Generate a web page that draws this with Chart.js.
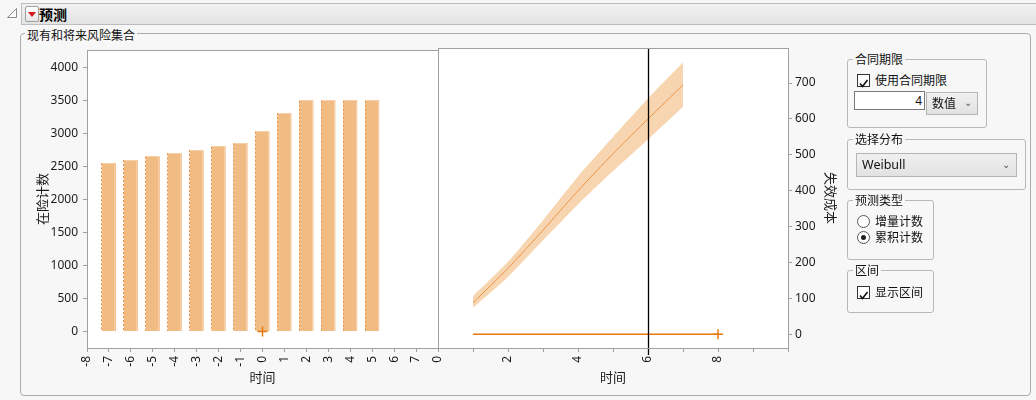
<!DOCTYPE html>
<html>
<head>
<meta charset="utf-8">
<script src="https://cdn.jsdelivr.net/npm/chart.js"></script>
<style>
body { margin:0; width:1036px; height:400px; background:#f7f7f7; position:relative; overflow:hidden;
  font-family:"Noto Sans CJK SC","Noto Sans",sans-serif; font-size:12px; color:#111; }
.abs { position:absolute; }
#titlebar { left:21px; top:3px; width:1020px; height:20px; border:1px solid #bdbdbd;
  background:linear-gradient(#f1f1f1,#e3e3e3); }
#titlebar b { position:absolute; left:17px; top:0px; font-size:14px; line-height:20px; color:#000; }
#redbtn { left:3px; top:2px; width:12px; height:14px; border:1px solid #a0a0a0; border-radius:2px;
  background:linear-gradient(#ffffff,#e6e6e6); }
#group { left:20px; top:33px; width:1009px; height:361px; border:1px solid #acacac; border-radius:4px; background:#f7f7f7; }
.lg { position:absolute; background:#f7f7f7; padding:0 2px; line-height:16px; white-space:nowrap; }
.box { position:absolute; border:1px solid #b8b8b8; border-radius:3px; }
.box .lg { left:5px; top:-9px; }
.chk { position:absolute; width:11px; height:11px; border:1px solid #333; background:#fff; }
.radio { position:absolute; width:11px; height:11px; border:1px solid #555; border-radius:50%; background:#fff; }
.radio.on::after { content:""; position:absolute; left:3px; top:3px; width:5px; height:5px; border-radius:50%; background:#222; }
.txt { position:absolute; white-space:nowrap; line-height:16px; }
.dd { position:absolute; border:1px solid #b5b5b5; background:linear-gradient(#f0f0f0,#e2e2e2); }
canvas { position:absolute; }
</style>
</head>
<body>
<svg class="abs" style="left:6px;top:7px" width="12" height="12"><polygon points="10.5,1.5 10.5,10.5 1.5,10.5" fill="#fff" stroke="#8a8a8a"/></svg>
<div id="titlebar" class="abs">
  <div id="redbtn" class="abs"><svg width="12" height="14"><polygon points="2,5 10,5 6,10" fill="#d8161b"/></svg></div>
  <b>预测</b>
</div>
<div id="group" class="abs"></div>
<span class="lg" style="left:25px;top:27px">现有和将来风险集合</span>

<canvas id="riskChart" width="440" height="350" style="left:20px;top:38px"></canvas>
<canvas id="costChart" width="423" height="350" style="left:420px;top:38px"></canvas>

<div class="box" style="left:847px;top:59px;width:138px;height:67px">
  <span class="lg">合同期限</span>
</div>
<div class="chk" style="left:857px;top:74px"><svg width="11" height="11"><polyline points="2,5.5 4.5,8.5 9.5,2" fill="none" stroke="#111" stroke-width="1.6"/></svg></div>
<span class="txt" style="left:875px;top:72px">使用合同期限</span>
<div class="abs" style="left:854px;top:91px;width:67px;height:17px;border:1px solid #7a7a7a;background:#fff;text-align:right;line-height:17px;padding-right:2px;font-family:'Noto Sans',sans-serif">4</div>
<div class="dd" style="left:926px;top:92px;width:50px;height:21px"><span class="txt" style="left:5px;top:2px">数值</span><span class="txt" style="left:37px;top:1px;font-size:10px;color:#555">&#8964;</span></div>

<div class="box" style="left:847px;top:139px;width:177px;height:49px">
  <span class="lg">选择分布</span>
</div>
<div class="dd" style="left:856px;top:153px;width:159px;height:22px"><span class="txt" style="left:5px;top:3px;font-family:'Noto Sans',sans-serif;font-size:12.5px">Weibull</span><span class="txt" style="left:145px;top:2px;font-size:10px;color:#555">&#8964;</span></div>

<div class="box" style="left:847px;top:200px;width:85px;height:58px">
  <span class="lg">预测类型</span>
</div>
<div class="radio" style="left:857px;top:215px"></div>
<span class="txt" style="left:875px;top:213px">增量计数</span>
<div class="radio on" style="left:857px;top:231px"></div>
<span class="txt" style="left:875px;top:229px">累积计数</span>

<div class="box" style="left:847px;top:270px;width:85px;height:41px">
  <span class="lg">区间</span>
</div>
<div class="chk" style="left:857px;top:286px"><svg width="11" height="11"><polyline points="2,5.5 4.5,8.5 9.5,2" fill="none" stroke="#111" stroke-width="1.6"/></svg></div>
<span class="txt" style="left:875px;top:284px">显示区间</span>

<script>
// left panel: at-risk counts by time
const riskTimes = [-7, -6, -5, -4, -3, -2, -1, 0, 1, 2, 3, 4, 5];
const riskCounts = [2550, 2600, 2650, 2700, 2750, 2800, 2850, 3030, 3310, 3500, 3500, 3500, 3500];
const riskTimeTicks = [-8, -7, -6, -5, -4, -3, -2, -1, 0, 1, 2, 3, 4, 5, 6, 7];
const riskCountTicks = [0, 500, 1000, 1500, 2000, 2500, 3000, 3500, 4000];
const nowTime = 0;

// right panel: cumulative failure cost forecast
const forecastTimes = [1, 2, 3, 4, 5, 6, 7];
const forecastCost = [88, 184, 290, 400, 503, 600, 695];
const forecastUpper = [106, 202, 318, 440, 550, 657, 757];
const forecastLower = [74, 160, 262, 362, 455, 543, 633];
const contractTimes = [1, 8];
const cutoffTime = 6;
const costTimeTicks = [0, 1, 2, 3, 4, 5, 6, 7, 8, 9, 10];
const costTimeLabels = ['0', '', '2', '', '4', '', '6', '', '8', '', ''];
const costTicks = [0, 100, 200, 300, 400, 500, 600, 700];

const tickFont = { family: 'Noto Sans', size: 12 };
const titleFont = { family: 'Noto Sans CJK SC', size: 13 };
const gray = '#a0a0a0';
const orange = '#e8770c';

function al(v) { return Math.round(v - 0.5) + 0.5; }

// white plot background + gray frame
const framePlugin = {
    id: 'frame',
    beforeDraw(chart) {
        const a = chart.chartArea, ctx = chart.ctx;
        ctx.save();
        ctx.fillStyle = '#fff';
        ctx.fillRect(a.left, a.top, a.right - a.left, a.bottom - a.top);
        ctx.restore();
    },
    afterDraw(chart) {
        const a = chart.chartArea, ctx = chart.ctx;
        ctx.save();
        ctx.strokeStyle = gray;
        ctx.lineWidth = 1;
        ctx.strokeRect(al(a.left), al(a.top), Math.round(a.right - a.left), Math.round(a.bottom - a.top));
        ctx.restore();
    }
};

// dashed darker left edge on each bar, lighter top/right edge
const barEdgePlugin = {
    id: 'barEdge',
    afterDatasetDraw(chart, args) {
        if (args.meta.type !== 'bar') return;
        const ctx = chart.ctx;
        ctx.save();
        args.meta.data.forEach(function (bar) {
            const p = bar.getProps(['x', 'y', 'base', 'width'], true);
            const x0 = al(p.x - p.width / 2);
            ctx.strokeStyle = '#f6cfa6';
            ctx.setLineDash([]);
            ctx.beginPath();
            ctx.moveTo(x0, al(p.y)); ctx.lineTo(x0 + p.width, al(p.y));
            ctx.moveTo(al(p.x + p.width / 2) - 1, p.y); ctx.lineTo(al(p.x + p.width / 2) - 1, p.base);
            ctx.stroke();
            ctx.strokeStyle = '#e98f3f';
            ctx.setLineDash([2, 2]);
            ctx.beginPath();
            ctx.moveTo(x0, p.y); ctx.lineTo(x0, p.base);
            ctx.stroke();
        });
        ctx.restore();
    }
};

// vertical cutoff line
const cutoffPlugin = {
    id: 'cutoff',
    afterDatasetsDraw(chart) {
        const x = al(chart.scales.x.getPixelForValue(cutoffTime));
        const a = chart.chartArea, ctx = chart.ctx;
        ctx.save();
        ctx.strokeStyle = '#000';
        ctx.lineWidth = 1.3;
        ctx.beginPath();
        ctx.moveTo(x, a.top);
        ctx.lineTo(x, a.bottom + 7);
        ctx.stroke();
        ctx.restore();
    }
};

function tickGrid() {
    return { display: true, offset: false, drawOnChartArea: false, drawTicks: true, tickLength: 4, color: gray };
}

new Chart(document.getElementById('riskChart'), {
    type: 'bar',
    data: {
        datasets: [{
            type: 'scatter',
            data: [{ x: nowTime, y: 0 }],
            pointStyle: 'cross',
            pointRadius: 5,
            borderColor: orange,
            borderWidth: 1.5,
            order: 0
        }, {
            data: riskTimes.map((t, i) => ({ x: t, y: riskCounts[i] })),
            backgroundColor: '#f1bb84',
            barPercentage: 0.8,
            categoryPercentage: 0.8,
            order: 1
        }]
    },
    options: {
        responsive: false,
        animation: false,
        events: [],
        layout: { padding: { left: 0, top: 10, right: 22, bottom: 0 } },
        plugins: { legend: { display: false }, tooltip: { enabled: false } },
        scales: {
            x: {
                type: 'linear', min: -8, max: 8, offset: false,
                afterBuildTicks: s => { s.ticks = riskTimeTicks.map(v => ({ value: v })); },
                afterFit: s => { s.height = 40; },
                ticks: { font: tickFont, color: '#1b1b1b', minRotation: 90, maxRotation: 90, autoSkip: false, padding: 4,
                    callback: v => String(v) },
                grid: tickGrid(),
                border: { display: false },
                title: { display: true, text: '时间', font: titleFont, color: '#1b1b1b', padding: { top: 0, bottom: 3 } }
            },
            y: {
                min: -250, max: 4266,
                afterBuildTicks: s => { s.ticks = riskCountTicks.map(v => ({ value: v })); },
                afterFit: s => { s.width = 67; },
                ticks: { font: tickFont, color: '#1b1b1b', padding: 5, callback: v => String(v) },
                grid: tickGrid(),
                border: { display: false },
                title: { display: true, text: '在险计数', font: titleFont, color: '#1b1b1b', padding: { top: 14, bottom: 0 } }
            }
        }
    },
    plugins: [framePlugin, barEdgePlugin]
});

new Chart(document.getElementById('costChart'), {
    type: 'line',
    data: {
        datasets: [{
            data: forecastTimes.map((t, i) => ({ x: t, y: forecastUpper[i] })),
            borderWidth: 0,
            pointRadius: 0,
            tension: 0.2,
            backgroundColor: '#f7d5b1',
            fill: '+1',
            order: 3
        }, {
            data: forecastTimes.map((t, i) => ({ x: t, y: forecastLower[i] })),
            borderWidth: 0,
            pointRadius: 0,
            tension: 0.2,
            fill: false,
            order: 2
        }, {
            data: forecastTimes.map((t, i) => ({ x: t, y: forecastCost[i] })),
            borderColor: '#ef9443',
            borderWidth: 1,
            pointRadius: 0,
            tension: 0.2,
            fill: false,
            order: 1
        }, {
            data: contractTimes.map(t => ({ x: t, y: 0 })),
            borderColor: orange,
            borderWidth: 1.5,
            pointStyle: 'cross',
            pointRadius: [0, 5],
            pointBorderColor: orange,
            pointBorderWidth: 1.5,
            fill: false,
            order: 0
        }]
    },
    options: {
        responsive: false,
        animation: false,
        events: [],
        layout: { padding: { left: 18, top: 10, right: 0, bottom: 0 } },
        plugins: { legend: { display: false }, tooltip: { enabled: false } },
        scales: {
            x: {
                type: 'linear', min: 0, max: 10,
                afterBuildTicks: s => { s.ticks = costTimeTicks.map(v => ({ value: v })); },
                afterFit: s => { s.height = 40; },
                ticks: {
                    font: tickFont, color: '#1b1b1b', minRotation: 90, maxRotation: 90, autoSkip: false, padding: 4,
                    callback: (v, i) => costTimeLabels[i]
                },
                grid: tickGrid(),
                border: { display: false },
                title: { display: true, text: '时间', font: titleFont, color: '#1b1b1b', padding: { top: 0, bottom: 3 } }
            },
            y: {
                position: 'right',
                min: -38, max: 797,
                afterBuildTicks: s => { s.ticks = costTicks.map(v => ({ value: v })); },
                afterFit: s => { s.width = 55; },
                ticks: { font: tickFont, color: '#1b1b1b', padding: 3, callback: v => String(v) },
                grid: tickGrid(),
                border: { display: false },
                title: { display: true, text: '失效成本', font: titleFont, color: '#1b1b1b', padding: { top: 4, bottom: 0 } }
            }
        }
    },
    plugins: [framePlugin, cutoffPlugin]
});
</script>
</body>
</html>
